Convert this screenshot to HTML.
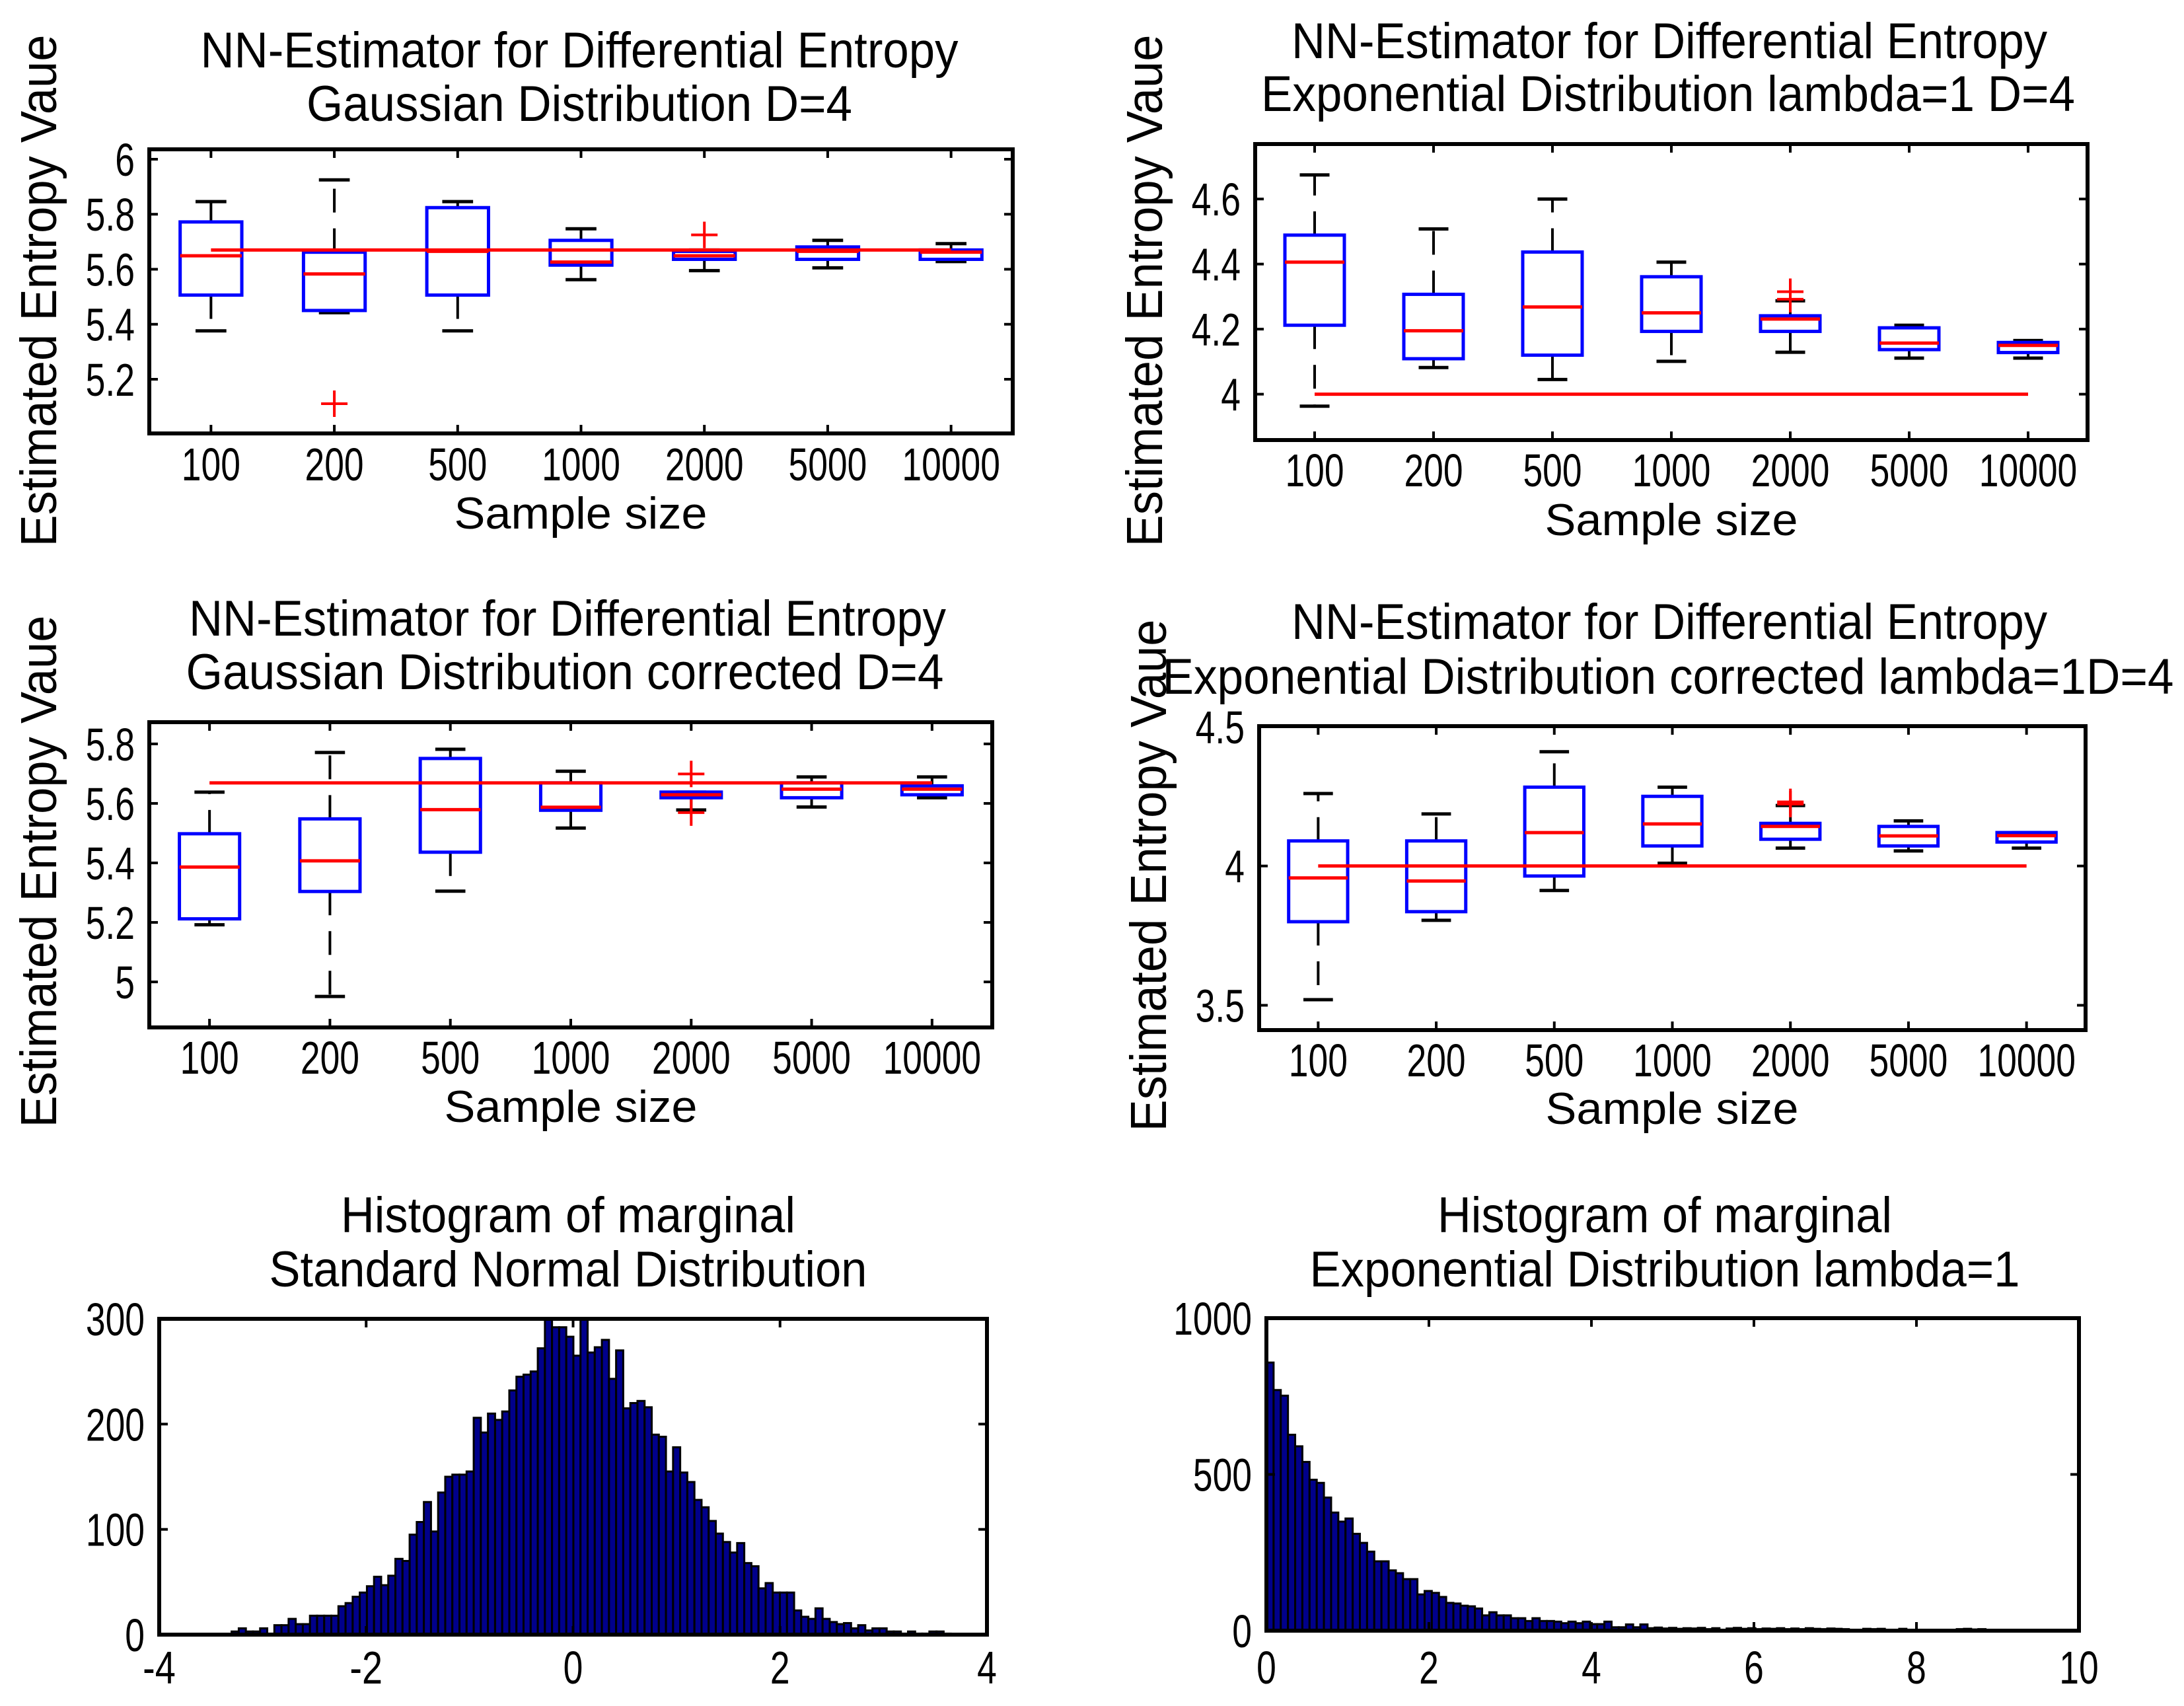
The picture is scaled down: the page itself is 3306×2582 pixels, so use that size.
<!DOCTYPE html>
<html><head><meta charset="utf-8"><style>
html,body{margin:0;padding:0;background:#fff;}
svg{display:block;}
text{font-family:"Liberation Sans",Arial,sans-serif;fill:#000;}
</style></head>
<body>
<svg id="fig" xmlns="http://www.w3.org/2000/svg" width="3306" height="2582" viewBox="0 0 3306 2582">
<rect x="0" y="0" width="3306" height="2582" fill="#fff"/>
<g font-size="76" text-anchor="middle">
<text x="877" y="102" textLength="1147" lengthAdjust="spacingAndGlyphs">NN-Estimator for Differential Entropy</text>
<text x="877" y="183" textLength="826" lengthAdjust="spacingAndGlyphs">Gaussian Distribution D=4</text>
<text x="2527" y="88" textLength="1144" lengthAdjust="spacingAndGlyphs">NN-Estimator for Differential Entropy</text>
<text x="2525" y="168" textLength="1232" lengthAdjust="spacingAndGlyphs">Exponential Distribution lambda=1 D=4</text>
<text x="859" y="962" textLength="1146" lengthAdjust="spacingAndGlyphs">NN-Estimator for Differential Entropy</text>
<text x="855" y="1043" textLength="1147" lengthAdjust="spacingAndGlyphs">Gaussian Distribution corrected D=4</text>
<text x="2527" y="967" textLength="1144" lengthAdjust="spacingAndGlyphs">NN-Estimator for Differential Entropy</text>
<text x="2525" y="1050" textLength="1531" lengthAdjust="spacingAndGlyphs">Exponential Distribution corrected lambda=1D=4</text>
<text x="860" y="1865" textLength="688" lengthAdjust="spacingAndGlyphs">Histogram of marginal</text>
<text x="860" y="1947" textLength="905" lengthAdjust="spacingAndGlyphs">Standard Normal Distribution</text>
<text x="2520" y="1865" textLength="688" lengthAdjust="spacingAndGlyphs">Histogram of marginal</text>
<text x="2520" y="1947" textLength="1075" lengthAdjust="spacingAndGlyphs">Exponential Distribution lambda=1</text>
</g>
<g>
<text x="879" y="800" font-size="68" text-anchor="middle" textLength="383" lengthAdjust="spacingAndGlyphs">Sample size</text>
<text x="2530" y="810" font-size="68" text-anchor="middle" textLength="383" lengthAdjust="spacingAndGlyphs">Sample size</text>
<text x="864" y="1698" font-size="68" text-anchor="middle" textLength="383" lengthAdjust="spacingAndGlyphs">Sample size</text>
<text x="2531" y="1701" font-size="68" text-anchor="middle" textLength="383" lengthAdjust="spacingAndGlyphs">Sample size</text>
<text transform="translate(85,440) rotate(-90)" font-size="77" text-anchor="middle" textLength="775" lengthAdjust="spacingAndGlyphs">Estimated Entropy Vaue</text>
<text transform="translate(1759,440) rotate(-90)" font-size="77" text-anchor="middle" textLength="775" lengthAdjust="spacingAndGlyphs">Estimated Entropy Vaue</text>
<text transform="translate(85,1319) rotate(-90)" font-size="77" text-anchor="middle" textLength="775" lengthAdjust="spacingAndGlyphs">Estimated Entropy Vaue</text>
<text transform="translate(1765,1325) rotate(-90)" font-size="77" text-anchor="middle" textLength="775" lengthAdjust="spacingAndGlyphs">Estimated Entropy Vaue</text>
</g>
</svg>
<script>
// ---- shared categories ----
const sampleSizes = ['100','200','500','1000','2000','5000','10000'];

// ---- Plot 1: Gaussian D=4 ----
const p1Lo  = [5.376,5.442,5.376,5.562,5.595,5.605,5.628];
const p1Q1  = [5.506,5.450,5.506,5.615,5.636,5.636,5.636];
const p1Med = [5.649,5.583,5.665,5.626,5.649,5.665,5.662];
const p1Q3  = [5.772,5.662,5.824,5.705,5.665,5.681,5.670];
const p1Hi  = [5.846,5.925,5.846,5.747,5.670,5.705,5.693];
const p1OutIdx = [1,4];
const p1OutVal = [5.111,5.725];
const p1Ref = 5.670;
const p1YTicks = [5.2,5.4,5.6,5.8,6];
const p1YLabels = ['5.2','5.4','5.6','5.8','6'];

// ---- Plot 2: Exponential D=4 ----
const p2Lo  = [3.963,4.082,4.045,4.101,4.129,4.111,4.111];
const p2Q1  = [4.212,4.109,4.120,4.193,4.193,4.137,4.128];
const p2Med = [4.406,4.195,4.268,4.250,4.231,4.157,4.150];
const p2Q3  = [4.489,4.307,4.437,4.361,4.241,4.204,4.159];
const p2Hi  = [4.674,4.508,4.600,4.406,4.287,4.212,4.165];
const p2OutIdx = [4,4];
const p2OutVal = [4.315,4.292];
const p2Ref = 4.0;
const p2YTicks = [4,4.2,4.4,4.6];
const p2YLabels = ['4','4.2','4.4','4.6'];

// ---- Plot 3: Gaussian corrected ----
const p3Lo  = [5.192,4.951,5.305,5.517,5.578,5.588,5.619];
const p3Q1  = [5.212,5.304,5.436,5.577,5.619,5.619,5.629];
const p3Med = [5.386,5.407,5.579,5.587,5.629,5.648,5.648];
const p3Q3  = [5.498,5.548,5.751,5.669,5.638,5.669,5.659];
const p3Hi  = [5.638,5.771,5.782,5.708,5.638,5.689,5.689];
const p3OutIdx = [4,4];
const p3OutVal = [5.699,5.569];
const p3Ref = 5.669;
const p3YTicks = [5,5.2,5.4,5.6,5.8];
const p3YLabels = ['5','5.2','5.4','5.6','5.8'];

// ---- Plot 4: Exponential corrected ----
const p4Lo  = [3.520,3.805,3.912,4.010,4.064,4.054,4.064];
const p4Q1  = [3.800,3.836,3.964,4.072,4.096,4.072,4.086];
const p4Med = [3.957,3.946,4.120,4.151,4.142,4.108,4.109];
const p4Q3  = [4.090,4.090,4.283,4.250,4.153,4.142,4.120];
const p4Hi  = [4.260,4.187,4.410,4.283,4.217,4.162,4.120];
const p4OutIdx = [4,4];
const p4OutVal = [4.230,4.222];
const p4Ref = 4.0;
const p4YTicks = [3.5,4,4.5];
const p4YLabels = ['3.5','4','4.5'];

// ---- Plot 5: histogram standard normal ----
const h1Counts = [3,6,3,3,6,1,9,9,15,10,10,18,18,18,18,27,30,36,40,46,55,47,56,72,70,95,107,126,98,135,150,152,152,155,206,192,210,204,212,232,245,247,250,272,300,292,292,283,265,300,268,273,280,243,270,215,220,222,216,190,188,155,178,154,145,128,121,108,96,88,78,87,68,65,44,49,40,40,40,23,17,15,25,15,12,10,11,6,9,4,6,6,3,3,1,3,1,1,3,3,1];
const h1BinStart = -3.3;
const h1BinEnd = 3.65;
const h1XTicks = [-4,-2,0,2,4];
const h1XLabels = ['-4','-2','0','2','4'];
const h1YTicks = [0,100,200,300];
const h1YLabels = ['0','100','200','300'];

// ---- Plot 6: histogram exponential ----
const h2Counts = [858,770,752,627,590,540,483,473,426,378,349,359,310,281,253,222,222,193,184,165,165,116,127,121,108,89,87,80,78,71,49,59,49,49,40,40,31,40,31,31,29,24,29,24,29,21,21,29,11,11,20,11,20,8,10,7,9,6,8,7,9,5,8,0,7,9,6,8,5,7,6,8,5,7,5,8,6,5,7,6,5,0,0,6,5,6,0,0,6,0,0,0,0,0,0,0,5,6,4,5];
const h2BinStart = 0;
const h2BinEnd = 8.85;
const h2XTicks = [0,2,4,6,8,10];
const h2XLabels = ['0','2','4','6','8','10'];
const h2YTicks = [0,500,1000];
const h2YLabels = ['0','500','1000'];

const NS = 'http://www.w3.org/2000/svg';
const svg = document.getElementById('fig');
function mk(tag, attrs, parent) {
  const e = document.createElementNS(NS, tag);
  for (const k in attrs) e.setAttribute(k, attrs[k]);
  parent.appendChild(e);
  return e;
}
function txtLen(s) {
  let w = 0;
  for (const c of s) w += (c === '.') ? 15 : (c === '-' ? 20 : 29.7);
  return w;
}
function label(parent, x, y, s, anchor, name) {
  const t = mk('text', {x: x, y: y, 'font-size': 70, 'text-anchor': anchor, textLength: txtLen(s), lengthAdjust: 'spacingAndGlyphs'}, parent);
  t.textContent = s;
  
  
  return t;
}

function boxPlot(cfg, lo, q1, med, q3, hi, outIdx, outVal, ref, yTicks, yLabels) {
  const g = mk('g', {}, svg);
  
  
  const n = sampleSizes.length;
  const step = (cfg.right - cfg.left) / n;
  const xs = i => cfg.left + (i + 0.5) * step;
  const ys = v => cfg.bottom - (v - cfg.ymin) / (cfg.ymax - cfg.ymin) * (cfg.bottom - cfg.top);
  const fr = mk('rect', {x: cfg.left, y: cfg.top, width: cfg.right - cfg.left, height: cfg.bottom - cfg.top, fill: 'none', stroke: '#000', 'stroke-width': 6}, g);
  
  
  for (let k = 0; k < yTicks.length; k++) {
    const y = ys(yTicks[k]);
    const t1 = mk('line', {x1: cfg.left, x2: cfg.left + 13, y1: y, y2: y, stroke: '#000', 'stroke-width': 4}, g);
    
    
    const t2 = mk('line', {x1: cfg.right, x2: cfg.right - 13, y1: y, y2: y, stroke: '#000', 'stroke-width': 4}, g);
    
    
    label(g, cfg.left - 22, y + 25, yLabels[k], 'end', 'y-tick-label');
  }
  for (let i = 0; i < n; i++) {
    const x = xs(i);
    const t1 = mk('line', {x1: x, x2: x, y1: cfg.bottom, y2: cfg.bottom - 13, stroke: '#000', 'stroke-width': 4}, g);
    
    
    const t2 = mk('line', {x1: x, x2: x, y1: cfg.top, y2: cfg.top + 13, stroke: '#000', 'stroke-width': 4}, g);
    
    
    label(g, x, cfg.xlabY, sampleSizes[i], 'middle', 'x-tick-label');
  }
  const bw = step * 0.25, cw = step * 0.125;
  for (let i = 0; i < n; i++) {
    const x = xs(i);
    const wu = mk('line', {x1: x, x2: x, y1: ys(q3[i]), y2: ys(hi[i]), stroke: '#000', 'stroke-width': 4, 'stroke-dasharray': '36,24'}, g);
    
    
    const wl = mk('line', {x1: x, x2: x, y1: ys(q1[i]), y2: ys(lo[i]), stroke: '#000', 'stroke-width': 4, 'stroke-dasharray': '36,24'}, g);
    
    
    const cu = mk('line', {x1: x - cw, x2: x + cw, y1: ys(hi[i]), y2: ys(hi[i]), stroke: '#000', 'stroke-width': 5}, g);
    
    
    const cl = mk('line', {x1: x - cw, x2: x + cw, y1: ys(lo[i]), y2: ys(lo[i]), stroke: '#000', 'stroke-width': 5}, g);
    
    
    const b = mk('rect', {x: x - bw, y: ys(q3[i]), width: 2 * bw, height: Math.max(1, ys(q1[i]) - ys(q3[i])), fill: 'none', stroke: '#0000ff', 'stroke-width': 5}, g);
    
    
    const m = mk('line', {x1: x - bw, x2: x + bw, y1: ys(med[i]), y2: ys(med[i]), stroke: '#ff0000', 'stroke-width': 5}, g);
    
    
  }
  for (let k = 0; k < outIdx.length; k++) {
    const x = xs(outIdx[k]), y = ys(outVal[k]);
    const o = mk('path', {d: 'M' + (x - 20) + ' ' + y + 'H' + (x + 20) + 'M' + x + ' ' + (y - 20) + 'V' + (y + 20), stroke: '#ff0000', 'stroke-width': 4, fill: 'none'}, g);
    
    
  }
  const r = mk('line', {x1: xs(0), x2: xs(n - 1), y1: ys(ref), y2: ys(ref), stroke: '#ff0000', 'stroke-width': 5}, g);
  
  
}

function histogram(cfg, counts, b0, b1, xTicks, xLabels, yTicks, yLabels) {
  const g = mk('g', {}, svg);
  
  
  const xs = v => cfg.left + (v - cfg.xmin) / (cfg.xmax - cfg.xmin) * (cfg.right - cfg.left);
  const ys = v => cfg.bottom - v / cfg.ymax * (cfg.bottom - cfg.top);
  const w = (b1 - b0) / counts.length;
  for (let i = 0; i < counts.length; i++) {
    const xa = xs(b0 + i * w), xb = xs(b0 + (i + 1) * w);
    const bar = mk('rect', {x: xa, y: ys(counts[i]), width: xb - xa, height: cfg.bottom - ys(counts[i]), fill: '#00008b', stroke: '#000', 'stroke-width': 3}, g);
    
    
  }
  const fr = mk('rect', {x: cfg.left, y: cfg.top, width: cfg.right - cfg.left, height: cfg.bottom - cfg.top, fill: 'none', stroke: '#000', 'stroke-width': 6}, g);
  
  
  for (let k = 0; k < xTicks.length; k++) {
    const x = xs(xTicks[k]);
    const t1 = mk('line', {x1: x, x2: x, y1: cfg.bottom, y2: cfg.bottom - 13, stroke: '#000', 'stroke-width': 4}, g);
    
    
    const t2 = mk('line', {x1: x, x2: x, y1: cfg.top, y2: cfg.top + 13, stroke: '#000', 'stroke-width': 4}, g);
    
    
    label(g, x, 2548, xLabels[k], 'middle', 'x-tick-label');
  }
  for (let k = 0; k < yTicks.length; k++) {
    const y = ys(yTicks[k]);
    const t1 = mk('line', {x1: cfg.left, x2: cfg.left + 13, y1: y, y2: y, stroke: '#000', 'stroke-width': 4}, g);
    
    
    const t2 = mk('line', {x1: cfg.right, x2: cfg.right - 13, y1: y, y2: y, stroke: '#000', 'stroke-width': 4}, g);
    
    
    label(g, cfg.left - 22, y + 25, yLabels[k], 'end', 'y-tick-label');
  }
}

boxPlot({name: 'boxplot-gaussian', left: 226, right: 1533, top: 226, bottom: 656, ymin: 5.003, ymax: 6.036, xlabY: 727},
  p1Lo, p1Q1, p1Med, p1Q3, p1Hi, p1OutIdx, p1OutVal, p1Ref, p1YTicks, p1YLabels);
boxPlot({name: 'boxplot-exponential', left: 1900, right: 3160, top: 218, bottom: 666, ymin: 3.859, ymax: 4.769, xlabY: 736},
  p2Lo, p2Q1, p2Med, p2Q3, p2Hi, p2OutIdx, p2OutVal, p2Ref, p2YTicks, p2YLabels);
boxPlot({name: 'boxplot-gaussian-corrected', left: 226, right: 1502, top: 1093, bottom: 1555, ymin: 4.847, ymax: 5.873, xlabY: 1625},
  p3Lo, p3Q1, p3Med, p3Q3, p3Hi, p3OutIdx, p3OutVal, p3Ref, p3YTicks, p3YLabels);
boxPlot({name: 'boxplot-exponential-corrected', left: 1906, right: 3157, top: 1099, bottom: 1559, ymin: 3.411, ymax: 4.502, xlabY: 1629},
  p4Lo, p4Q1, p4Med, p4Q3, p4Hi, p4OutIdx, p4OutVal, p4Ref, p4YTicks, p4YLabels);
histogram({name: 'histogram-normal', left: 241, right: 1494, top: 1996, bottom: 2474, xmin: -4, xmax: 4, ymax: 300},
  h1Counts, h1BinStart, h1BinEnd, h1XTicks, h1XLabels, h1YTicks, h1YLabels);
histogram({name: 'histogram-exponential', left: 1917, right: 3147, top: 1995, bottom: 2468, xmin: 0, xmax: 10, ymax: 1000},
  h2Counts, h2BinStart, h2BinEnd, h2XTicks, h2XLabels, h2YTicks, h2YLabels);
</script>
</body></html>
